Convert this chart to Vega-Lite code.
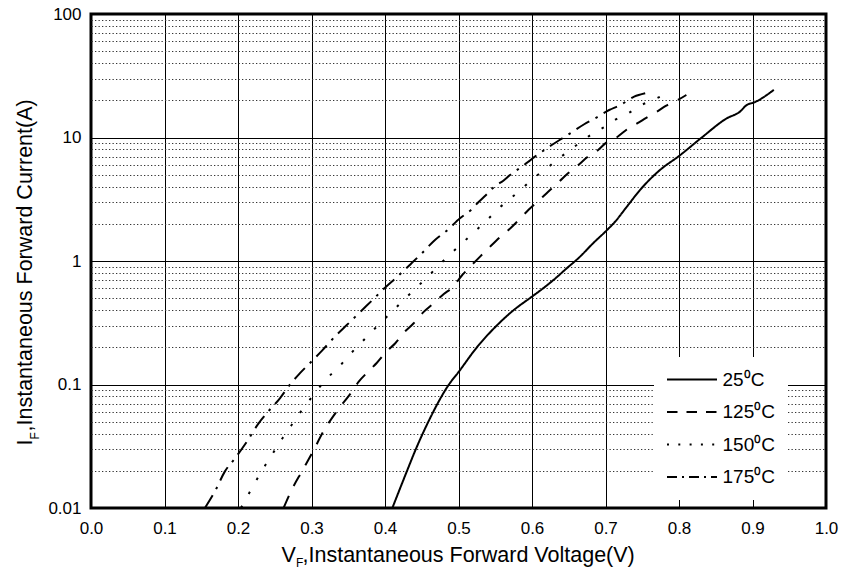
{
  "$schema": "https://vega.github.io/schema/vega-lite/v6.json",
  "width": 735,
  "height": 494,
  "autosize": {"type": "none"},
  "padding": {"left": 91, "top": 14, "right": 17, "bottom": 61},
  "background": "white",
  "config": {
    "view": {"stroke": "black", "strokeWidth": 3},
    "axis": {"labelFont": "Liberation Sans", "titleFont": "Liberation Sans", "labelColor": "black", "titleColor": "black", "titleFontWeight": "normal"},
    "legend": {"labelFont": "Liberation Sans"}
  },
  "datasets": {
    "curves": [
      {"series": "25⁰C", "V": 0.410, "I": 0.010},
      {"series": "25⁰C", "V": 0.430, "I": 0.020},
      {"series": "25⁰C", "V": 0.442, "I": 0.030},
      {"series": "25⁰C", "V": 0.459, "I": 0.050},
      {"series": "25⁰C", "V": 0.487, "I": 0.100},
      {"series": "25⁰C", "V": 0.500, "I": 0.126},
      {"series": "25⁰C", "V": 0.525, "I": 0.200},
      {"series": "25⁰C", "V": 0.552, "I": 0.300},
      {"series": "25⁰C", "V": 0.575, "I": 0.400},
      {"series": "25⁰C", "V": 0.597, "I": 0.500},
      {"series": "25⁰C", "V": 0.615, "I": 0.600},
      {"series": "25⁰C", "V": 0.629, "I": 0.700},
      {"series": "25⁰C", "V": 0.647, "I": 0.870},
      {"series": "25⁰C", "V": 0.665, "I": 1.080},
      {"series": "25⁰C", "V": 0.683, "I": 1.390},
      {"series": "25⁰C", "V": 0.702, "I": 1.780},
      {"series": "25⁰C", "V": 0.713, "I": 2.080},
      {"series": "25⁰C", "V": 0.729, "I": 2.750},
      {"series": "25⁰C", "V": 0.747, "I": 3.760},
      {"series": "25⁰C", "V": 0.774, "I": 5.450},
      {"series": "25⁰C", "V": 0.800, "I": 7.080},
      {"series": "25⁰C", "V": 0.831, "I": 10.0},
      {"series": "25⁰C", "V": 0.865, "I": 14.3},
      {"series": "25⁰C", "V": 0.883, "I": 16.2},
      {"series": "25⁰C", "V": 0.892, "I": 18.3},
      {"series": "25⁰C", "V": 0.902, "I": 19.2},
      {"series": "25⁰C", "V": 0.929, "I": 24.3},
      {"series": "125⁰C", "V": 0.262, "I": 0.0100},
      {"series": "125⁰C", "V": 0.273, "I": 0.0140},
      {"series": "125⁰C", "V": 0.288, "I": 0.0203},
      {"series": "125⁰C", "V": 0.303, "I": 0.0295},
      {"series": "125⁰C", "V": 0.316, "I": 0.0415},
      {"series": "125⁰C", "V": 0.334, "I": 0.0603},
      {"series": "125⁰C", "V": 0.355, "I": 0.0874},
      {"series": "125⁰C", "V": 0.364, "I": 0.105},
      {"series": "125⁰C", "V": 0.377, "I": 0.127},
      {"series": "125⁰C", "V": 0.389, "I": 0.150},
      {"series": "125⁰C", "V": 0.402, "I": 0.185},
      {"series": "125⁰C", "V": 0.414, "I": 0.216},
      {"series": "125⁰C", "V": 0.427, "I": 0.268},
      {"series": "125⁰C", "V": 0.439, "I": 0.313},
      {"series": "125⁰C", "V": 0.453, "I": 0.389},
      {"series": "125⁰C", "V": 0.466, "I": 0.454},
      {"series": "125⁰C", "V": 0.480, "I": 0.541},
      {"series": "125⁰C", "V": 0.492, "I": 0.612},
      {"series": "125⁰C", "V": 0.504, "I": 0.756},
      {"series": "125⁰C", "V": 0.516, "I": 0.900},
      {"series": "125⁰C", "V": 0.529, "I": 1.080},
      {"series": "125⁰C", "V": 0.541, "I": 1.270},
      {"series": "125⁰C", "V": 0.556, "I": 1.550},
      {"series": "125⁰C", "V": 0.568, "I": 1.780},
      {"series": "125⁰C", "V": 0.583, "I": 2.180},
      {"series": "125⁰C", "V": 0.595, "I": 2.590},
      {"series": "125⁰C", "V": 0.610, "I": 3.12},
      {"series": "125⁰C", "V": 0.622, "I": 3.64},
      {"series": "125⁰C", "V": 0.637, "I": 4.39},
      {"series": "125⁰C", "V": 0.649, "I": 5.13},
      {"series": "125⁰C", "V": 0.663, "I": 5.98},
      {"series": "125⁰C", "V": 0.675, "I": 6.91},
      {"series": "125⁰C", "V": 0.690, "I": 7.92},
      {"series": "125⁰C", "V": 0.701, "I": 9.08},
      {"series": "125⁰C", "V": 0.716, "I": 10.1},
      {"series": "125⁰C", "V": 0.729, "I": 11.6},
      {"series": "125⁰C", "V": 0.743, "I": 13.0},
      {"series": "125⁰C", "V": 0.756, "I": 14.5},
      {"series": "125⁰C", "V": 0.770, "I": 16.2},
      {"series": "125⁰C", "V": 0.782, "I": 18.0},
      {"series": "125⁰C", "V": 0.797, "I": 19.9},
      {"series": "125⁰C", "V": 0.810, "I": 22.1},
      {"series": "150⁰C", "V": 0.204, "I": 0.0100},
      {"series": "150⁰C", "V": 0.213, "I": 0.0125},
      {"series": "150⁰C", "V": 0.222, "I": 0.0156},
      {"series": "150⁰C", "V": 0.231, "I": 0.0193},
      {"series": "150⁰C", "V": 0.241, "I": 0.0242},
      {"series": "150⁰C", "V": 0.251, "I": 0.0299},
      {"series": "150⁰C", "V": 0.261, "I": 0.0371},
      {"series": "150⁰C", "V": 0.272, "I": 0.0461},
      {"series": "150⁰C", "V": 0.283, "I": 0.0577},
      {"series": "150⁰C", "V": 0.295, "I": 0.0718},
      {"series": "150⁰C", "V": 0.307, "I": 0.0891},
      {"series": "150⁰C", "V": 0.321, "I": 0.112},
      {"series": "150⁰C", "V": 0.337, "I": 0.138},
      {"series": "150⁰C", "V": 0.351, "I": 0.172},
      {"series": "150⁰C", "V": 0.367, "I": 0.216},
      {"series": "150⁰C", "V": 0.382, "I": 0.268},
      {"series": "150⁰C", "V": 0.398, "I": 0.333},
      {"series": "150⁰C", "V": 0.414, "I": 0.414},
      {"series": "150⁰C", "V": 0.430, "I": 0.514},
      {"series": "150⁰C", "V": 0.444, "I": 0.619},
      {"series": "150⁰C", "V": 0.460, "I": 0.766},
      {"series": "150⁰C", "V": 0.475, "I": 0.946},
      {"series": "150⁰C", "V": 0.491, "I": 1.17},
      {"series": "150⁰C", "V": 0.507, "I": 1.43},
      {"series": "150⁰C", "V": 0.523, "I": 1.75},
      {"series": "150⁰C", "V": 0.538, "I": 2.12},
      {"series": "150⁰C", "V": 0.554, "I": 2.64},
      {"series": "150⁰C", "V": 0.571, "I": 3.22},
      {"series": "150⁰C", "V": 0.587, "I": 3.88},
      {"series": "150⁰C", "V": 0.603, "I": 4.73},
      {"series": "150⁰C", "V": 0.619, "I": 5.56},
      {"series": "150⁰C", "V": 0.634, "I": 6.58},
      {"series": "150⁰C", "V": 0.650, "I": 7.78},
      {"series": "150⁰C", "V": 0.666, "I": 9.15},
      {"series": "150⁰C", "V": 0.682, "I": 10.7},
      {"series": "150⁰C", "V": 0.699, "I": 12.2},
      {"series": "150⁰C", "V": 0.714, "I": 14.0},
      {"series": "150⁰C", "V": 0.731, "I": 15.7},
      {"series": "150⁰C", "V": 0.746, "I": 18.0},
      {"series": "150⁰C", "V": 0.762, "I": 19.8},
      {"series": "150⁰C", "V": 0.779, "I": 22.1},
      {"series": "175⁰C", "V": 0.155, "I": 0.0100},
      {"series": "175⁰C", "V": 0.169, "I": 0.0138},
      {"series": "175⁰C", "V": 0.182, "I": 0.0197},
      {"series": "175⁰C", "V": 0.196, "I": 0.0253},
      {"series": "175⁰C", "V": 0.212, "I": 0.0344},
      {"series": "175⁰C", "V": 0.228, "I": 0.0485},
      {"series": "175⁰C", "V": 0.241, "I": 0.0603},
      {"series": "175⁰C", "V": 0.257, "I": 0.0773},
      {"series": "175⁰C", "V": 0.271, "I": 0.1004},
      {"series": "175⁰C", "V": 0.284, "I": 0.123},
      {"series": "175⁰C", "V": 0.302, "I": 0.158},
      {"series": "175⁰C", "V": 0.315, "I": 0.190},
      {"series": "175⁰C", "V": 0.334, "I": 0.252},
      {"series": "175⁰C", "V": 0.348, "I": 0.303},
      {"series": "175⁰C", "V": 0.368, "I": 0.396},
      {"series": "175⁰C", "V": 0.382, "I": 0.477},
      {"series": "175⁰C", "V": 0.400, "I": 0.608},
      {"series": "175⁰C", "V": 0.415, "I": 0.730},
      {"series": "175⁰C", "V": 0.436, "I": 0.958},
      {"series": "175⁰C", "V": 0.450, "I": 1.154},
      {"series": "175⁰C", "V": 0.468, "I": 1.48},
      {"series": "175⁰C", "V": 0.484, "I": 1.76},
      {"series": "175⁰C", "V": 0.502, "I": 2.22},
      {"series": "175⁰C", "V": 0.517, "I": 2.59},
      {"series": "175⁰C", "V": 0.527, "I": 2.99},
      {"series": "175⁰C", "V": 0.536, "I": 3.36},
      {"series": "175⁰C", "V": 0.550, "I": 4.05},
      {"series": "175⁰C", "V": 0.561, "I": 4.47},
      {"series": "175⁰C", "V": 0.570, "I": 4.97},
      {"series": "175⁰C", "V": 0.585, "I": 5.74},
      {"series": "175⁰C", "V": 0.594, "I": 6.30},
      {"series": "175⁰C", "V": 0.604, "I": 7.00},
      {"series": "175⁰C", "V": 0.620, "I": 8.17},
      {"series": "175⁰C", "V": 0.637, "I": 9.50},
      {"series": "175⁰C", "V": 0.652, "I": 10.8},
      {"series": "175⁰C", "V": 0.671, "I": 12.8},
      {"series": "175⁰C", "V": 0.686, "I": 14.3},
      {"series": "175⁰C", "V": 0.705, "I": 16.7},
      {"series": "175⁰C", "V": 0.720, "I": 18.3},
      {"series": "175⁰C", "V": 0.739, "I": 21.4},
      {"series": "175⁰C", "V": 0.754, "I": 22.8}
    ]
  },
  "layer": [
    {
      "data": {"name": "curves"},
      "mark": {"type": "point", "opacity": 0, "size": 1},
      "encoding": {
        "x": {
          "field": "V", "type": "quantitative",
          "scale": {"domain": [0, 1], "nice": false, "zero": false},
          "axis": {
            "orient": "bottom", "labels": false, "ticks": false, "tickSize": 0, "domain": false, "grid": false,
            "title": "F", "titleFontSize": 12, "titleAlign": "left", "titleBaseline": "alphabetic",
            "titleX": 204.5, "titleY": 58
          }
        },
        "y": {
          "field": "I", "type": "quantitative",
          "scale": {"type": "log", "domain": [0.01, 100], "nice": false},
          "axis": {
            "orient": "left",
            "values": [0.02, 0.03, 0.04, 0.05, 0.06, 0.07, 0.08, 0.09, 0.2, 0.3, 0.4, 0.5, 0.6, 0.7, 0.8, 0.9, 2, 3, 4, 5, 6, 7, 8, 9, 20, 30, 40, 50, 60, 70, 80, 90],
            "labels": false, "ticks": false, "tickSize": 0, "domain": false,
            "grid": true, "gridColor": "#333333", "gridWidth": 1, "gridDash": [1.3, 2.2],
            "title": "F", "titleFontSize": 12, "titleAngle": 270, "titleAlign": "left", "titleBaseline": "alphabetic",
            "titleX": -53, "titleY": 425
          }
        }
      }
    },
    {
      "data": {"name": "curves"},
      "mark": {"type": "point", "opacity": 0, "size": 1},
      "encoding": {
        "x": {
          "field": "V", "type": "quantitative",
          "scale": {"domain": [0, 1], "nice": false, "zero": false},
          "axis": {
            "orient": "bottom", "labels": false, "ticks": false, "tickSize": 0, "domain": false, "grid": false,
            "title": "V", "titleFontSize": 21.5, "titleAlign": "left", "titleBaseline": "alphabetic",
            "titleX": 190, "titleY": 53
          }
        },
        "y": {
          "field": "I", "type": "quantitative",
          "scale": {"type": "log", "domain": [0.01, 100], "nice": false},
          "axis": {
            "orient": "left", "labels": false, "ticks": false, "tickSize": 0, "domain": false, "grid": false,
            "title": "I", "titleFontSize": 21.5, "titleAngle": 270, "titleAlign": "left", "titleBaseline": "alphabetic",
            "titleX": -60, "titleY": 431
          }
        }
      }
    },
    {
      "data": {"name": "curves"},
      "transform": [{"filter": {"field": "I", "equal": 0.01}}],
      "mark": {"type": "line", "color": "black", "strokeWidth": 2, "strokeCap": "butt"},
      "encoding": {
        "x": {"field": "V", "type": "quantitative", "scale": {"domain": [0, 1], "nice": false, "zero": false}, "axis": null},
        "y": {"field": "I", "type": "quantitative", "scale": {"type": "log", "domain": [0.01, 100], "nice": false}, "axis": null},
        "strokeDash": {
          "field": "series", "type": "nominal",
          "scale": {"domain": ["25⁰C", "125⁰C", "150⁰C", "175⁰C"], "range": [[1, 0], [10.5, 9], [2, 9.3], [10, 5, 2, 5]]},
          "legend": {
            "orient": "none", "legendX": 563, "legendY": 343, "title": null,
            "fillColor": "white", "padding": 13,
            "symbolType": "M-5,0H5", "symbolSize": 100, "symbolStrokeWidth": 2, "symbolStrokeColor": "black", "symbolOffset": 15.5,
            "labelOffset": 21, "labelFontSize": 19, "labelColor": "black", "labelLimit": 0, "rowPadding": 12.5
          }
        }
      }
    },
    {
      "data": {"name": "curves"},
      "mark": {"type": "line", "color": "black", "strokeWidth": 2, "strokeCap": "butt", "interpolate": "monotone"},
      "encoding": {
        "x": {
          "field": "V", "type": "quantitative",
          "scale": {"domain": [0, 1], "nice": false, "zero": false},
          "axis": {
            "orient": "bottom",
            "values": [0, 0.1, 0.2, 0.3, 0.4, 0.5, 0.6, 0.7, 0.8, 0.9, 1.0],
            "format": ".1f", "labelFlush": false, "labelFontSize": 17, "labelPadding": 12,
            "ticks": false, "tickSize": 0, "domain": false,
            "grid": true, "gridColor": "black", "gridWidth": 1,
            "title": ",Instantaneous Forward Voltage(V)", "titleFontSize": 21.5, "titleAlign": "left", "titleBaseline": "alphabetic",
            "titleX": 211, "titleY": 53
          }
        },
        "y": {
          "field": "I", "type": "quantitative",
          "scale": {"type": "log", "domain": [0.01, 100], "nice": false},
          "axis": {
            "orient": "left",
            "values": [0.01, 0.1, 1, 10, 100],
            "format": "~g", "labelFontSize": 17, "labelPadding": 10, "labelOverlap": false,
            "ticks": false, "tickSize": 0, "domain": false,
            "grid": true, "gridColor": "black", "gridWidth": 1,
            "title": ",Instantaneous Forward Current(A)", "titleFontSize": 21.5, "titleAngle": 270, "titleAlign": "left", "titleBaseline": "alphabetic",
            "titleX": -60, "titleY": 417
          }
        },
        "strokeDash": {
          "field": "series", "type": "nominal",
          "scale": {"domain": ["25⁰C", "125⁰C", "150⁰C", "175⁰C"], "range": [[1, 0], [13, 11], [2.5, 13.5], [15, 7, 2.5, 7]]},
          "legend": null
        }
      }
    }
  ],
  "resolve": {"axis": {"x": "independent", "y": "independent"}, "scale": {"strokeDash": "independent"}}
}
